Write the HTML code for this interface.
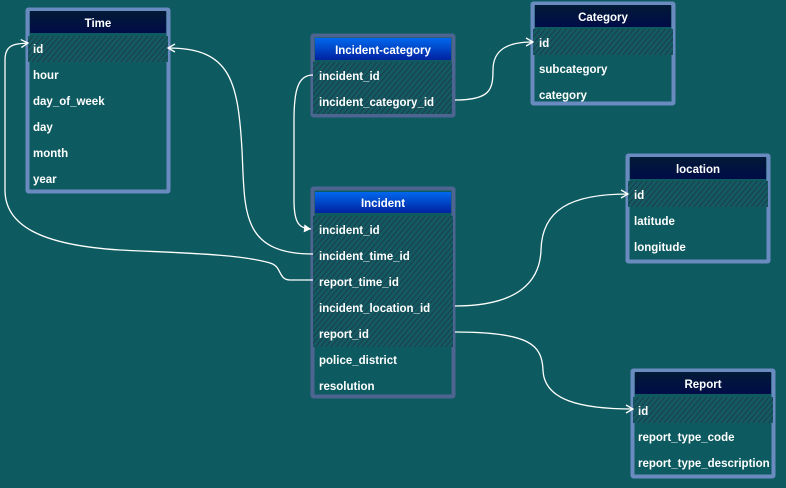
<!DOCTYPE html>
<html><head><meta charset="utf-8"><style>
html,body{margin:0;padding:0;background:#0d5a60;}
svg{display:block;font-family:"Liberation Sans",sans-serif;}
text{fill:#fff;font-size:11.5px;font-weight:bold;}
</style></head><body>
<svg width="786" height="488" viewBox="0 0 786 488" xmlns="http://www.w3.org/2000/svg">
<defs>
<pattern id="h" width="4" height="4" patternUnits="userSpaceOnUse" patternTransform="rotate(40)">
<rect width="4" height="4" fill="#145a62"/>
<line x1="0" y1="0" x2="0" y2="4" stroke="#1b3a48" stroke-width="1.8"/>
</pattern>
<linearGradient id="dk" x1="0" y1="0" x2="0" y2="1"><stop offset="0" stop-color="#021a36"/><stop offset="1" stop-color="#000c48"/></linearGradient>
<linearGradient id="bl" x1="0" y1="0" x2="0" y2="1"><stop offset="0" stop-color="#0068ee"/><stop offset="1" stop-color="#0022a0"/></linearGradient>
<marker id="a" markerWidth="10" markerHeight="10" refX="8" refY="5" orient="auto" markerUnits="userSpaceOnUse"><path d="M1,1 L8,5 L1,9" fill="none" stroke="#fff" stroke-width="1.3"/></marker>
<marker id="af" markerWidth="10" markerHeight="10" refX="8" refY="5" orient="auto" markerUnits="userSpaceOnUse"><path d="M1,1 L8,5 L1,9 Z" fill="#fff"/></marker>
</defs>

<!-- Time -->
<rect x="27.5" y="9.5" width="141" height="182" fill="#0d5a60" stroke="#6a8bc0" stroke-width="4" rx="1"/>
<rect x="30" y="11" width="136" height="22" fill="url(#dk)"/>
<text x="98" y="27" text-anchor="middle">Time</text>
<rect x="28" y="36" width="140" height="26" fill="url(#h)"/>
<text x="33" y="53">id</text><text x="33" y="79">hour</text><text x="33" y="105">day_of_week</text>
<text x="33" y="131">day</text><text x="33" y="157">month</text><text x="33" y="183">year</text>

<!-- Incident-category -->
<rect x="312.5" y="35.5" width="141" height="80" fill="#0d5a60" stroke="#4d6590" stroke-width="4" rx="1"/>
<rect x="315" y="38" width="136" height="22" fill="url(#bl)"/>
<text x="383" y="54" text-anchor="middle">Incident-category</text>
<rect x="313" y="62" width="139" height="52" fill="url(#h)"/>
<text x="319" y="80">incident_id</text><text x="319" y="106">incident_category_id</text>

<!-- Category -->
<rect x="532.5" y="3.5" width="141" height="100" fill="#0d5a60" stroke="#6a8bc0" stroke-width="4" rx="1"/>
<rect x="535" y="5" width="136" height="22" fill="url(#dk)"/>
<text x="603" y="21" text-anchor="middle">Category</text>
<rect x="533" y="29" width="140" height="26" fill="url(#h)"/>
<text x="539" y="47">id</text><text x="539" y="73">subcategory</text><text x="539" y="99">category</text>

<!-- location -->
<rect x="627.5" y="155.5" width="141" height="106" fill="#0d5a60" stroke="#6a8bc0" stroke-width="4" rx="1"/>
<rect x="630" y="157" width="136" height="22" fill="url(#dk)"/>
<text x="698" y="173" text-anchor="middle">location</text>
<rect x="628" y="181" width="140" height="26" fill="url(#h)"/>
<text x="634" y="199">id</text><text x="634" y="225">latitude</text><text x="634" y="251">longitude</text>

<!-- Incident -->
<rect x="312.5" y="188.5" width="141" height="208" fill="#0d5a60" stroke="#4d6590" stroke-width="4" rx="1"/>
<rect x="315" y="192" width="136" height="21" fill="url(#bl)"/>
<text x="383" y="207" text-anchor="middle">Incident</text>
<rect x="313" y="216" width="140" height="131" fill="url(#h)"/>
<text x="319" y="234">incident_id</text><text x="319" y="260">incident_time_id</text>
<text x="319" y="286">report_time_id</text><text x="319" y="312">incident_location_id</text>
<text x="319" y="338">report_id</text><text x="319" y="364">police_district</text>
<text x="319" y="390">resolution</text>

<!-- Report -->
<rect x="632.5" y="370.5" width="141" height="106" fill="#0d5a60" stroke="#6a8bc0" stroke-width="4" rx="1"/>
<rect x="635" y="372" width="136" height="22" fill="url(#dk)"/>
<text x="703" y="388" text-anchor="middle">Report</text>
<rect x="633" y="397" width="140" height="26" fill="url(#h)"/>
<text x="638" y="415">id</text><text x="638" y="441">report_type_code</text><text x="638" y="467">report_type_description</text>

<!-- connectors -->
<g fill="none" stroke="#fff" stroke-width="1.3">
<path d="M313,254 C240,254 245,210 242,150 C238,80 230,48 168,48" marker-end="url(#a)"/>
<path d="M313,280 L290,280 C278,280 282,266 270,263 C240,254 180,253 120,250 C40,245 5,225 5,190 L5,60 C5,44 15,44 28,43" marker-end="url(#a)"/>
<path d="M313,75 C298,75 294,90 294,120 L294,200 C294,225 300,228 311,229" marker-end="url(#af)"/>
<path d="M455,100 C490,100 493,90 493,70 C493,48 510,42 533,42" marker-end="url(#a)"/>
<path d="M455,306 C520,306 540,280 541,250 C542,210 570,194 628,194" marker-end="url(#a)"/>
<path d="M455,332 C530,332 542,345 543,370 C544,400 580,409 633,409" marker-end="url(#a)"/>
</g>
</svg>
</body></html>
